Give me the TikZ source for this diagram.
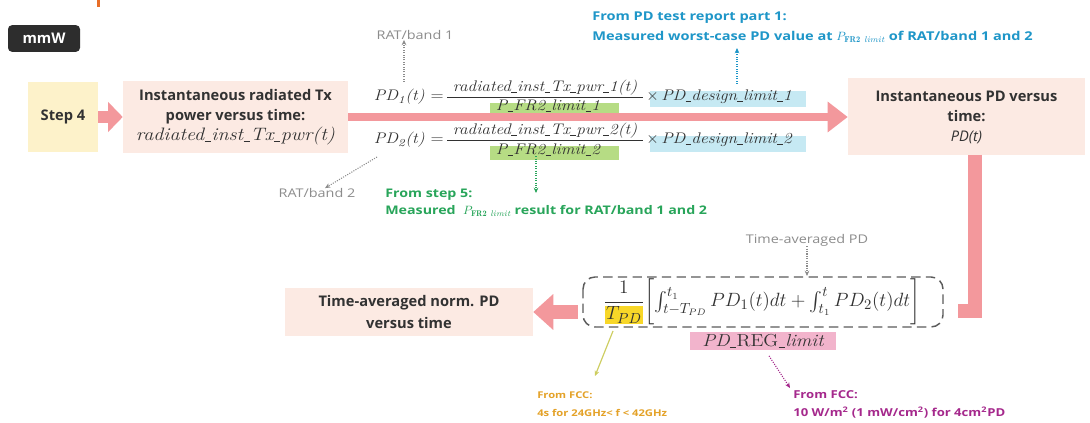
\documentclass[tikz,border=0pt]{standalone}
\usepackage{amsmath}
\usepackage{fontspec}
\setsansfont{Open Sans}
\newfontfamily\notefont{Open Sans}[FakeStretch=1.2]
\newfontfamily\eqfont{Latin Modern Roman}[FakeStretch=1.12]
\usetikzlibrary{arrows.meta}

\definecolor{arrowpink}{RGB}{243,152,156}
\definecolor{boxpink}{RGB}{252,234,227}
\definecolor{stepyellow}{RGB}{253,242,202}
\definecolor{darktext}{RGB}{50,50,50}
\definecolor{mmwdark}{RGB}{45,45,45}
\definecolor{notegray}{RGB}{140,140,140}
\definecolor{pdblue}{RGB}{30,150,200}
\definecolor{hlblue}{RGB}{198,233,243}
\definecolor{stepgreen}{RGB}{40,165,90}
\definecolor{hlgreen}{RGB}{182,220,132}
\definecolor{fccorange}{RGB}{228,162,40}
\definecolor{hlyellow}{RGB}{248,215,40}
\definecolor{lineolive}{RGB}{205,205,95}
\definecolor{fccmagenta}{RGB}{165,40,140}
\definecolor{hlpink}{RGB}{242,180,204}
\definecolor{tabbar}{RGB}{232,110,40}

% short low underscore used inside variable names
\newcommand\usc{\kern0.02em\rule[-0.06em]{0.36em}{0.045em}\kern0.02em}
\setlength{\fboxsep}{0.6pt}

\begin{document}
\begin{tikzpicture}[x=0.75pt,y=-0.75pt,
  box/.style={fill=boxpink, inner sep=0pt, align=center, text=darktext,
    font=\sffamily\bfseries\fontsize{11}{15}\selectfont},
  note/.style={inner sep=0pt, text=notegray, font=\notefont\fontsize{9}{10}\selectfont},
  bnote/.style={inner sep=0pt, align=left, anchor=west,
    font=\notefont\bfseries\fontsize{9.1}{15}\selectfont},
  eq/.style={inner sep=0pt, text=darktext, font=\eqfont\itshape\fontsize{11.5}{13}\selectfont},
  dotarrow/.style={line width=0.8pt, densely dotted, -{Stealth[length=4pt,width=3.5pt]}},
  fracbar/.style={draw=darktext, line width=0.6pt}
]
\path[use as bounding box, fill=white] (0,0) rectangle (1090,423);

% small accent bar at the top edge
\fill[tabbar] (97,0) rectangle (100,7);

% --- main boxes ---
\node[fill=mmwdark, rounded corners=3pt, inner sep=0pt, minimum width=54pt, minimum height=20pt,
  text=white, font=\sffamily\bfseries\fontsize{11}{12}\selectfont] (mmw) at (44,38.5) {mmW};

\node[box, fill=stepyellow, minimum width=52.5pt, minimum height=52.5pt] (step) at (63,117) {Step 4};

\node[box, minimum width=168.75pt, minimum height=54pt] (tx) at (235.5,117)
  {Instantaneous radiated Tx\\power versus time:\\
   {\eqfont\mdseries\itshape\fontsize{13.5}{15}\selectfont radiated\usc inst\usc Tx\usc pwr(t)}};

\node[box, minimum width=177.75pt, minimum height=57.75pt] (pd) at (966.5,117)
  {Instantaneous PD versus\\time:\\{\mdseries\itshape PD(t)}};

\node[box, minimum width=186pt, minimum height=36pt, font=\sffamily\bfseries\fontsize{11}{16.5}\selectfont]
  (avg) at (409,312) {Time-averaged norm. PD\\versus time};

% --- highlights behind formula parts ---
\fill[hlgreen] (490,103) rectangle (619,116);
\fill[hlgreen] (490,146) rectangle (619,160);
\fill[hlblue] (650,91) rectangle (806,107);
\fill[hlblue] (650,136) rectangle (806,152);
\fill[hlpink] (690,332) rectangle (836,350);

% --- thick flow arrows ---
\draw[arrowpink, line width=9pt, -{Triangle[length=11pt,width=22pt]}] (step.east) -- (tx.west);
\draw[arrowpink, line width=5.5pt, -{Triangle[length=15pt,width=22pt]}] (tx.east) -- (pd.west);
\coordinate (barTop) at (975,155);
\coordinate (barFoot) at (958,311);
\draw[arrowpink, line width=10.5pt] (barTop) |- (barFoot);

% --- power density formulas ---
\node[eq, anchor=base east] (lhs1) at (444,101) {PD\textsubscript{1}(t) {\upshape =}};
\node[eq, anchor=base] (num1) at (545,92) {radiated\usc inst\usc Tx\usc pwr\usc 1(t)};
\draw[fracbar] (447,97) -- (643,97);
\node[eq, anchor=base] (den1) at (548,111) {P\usc FR2\usc limit\usc 1};
\node[eq, anchor=base west] (rhs1) at (646,101) {{\upshape$\times$}\,PD\usc design\usc limit\usc 1};

\node[eq, anchor=base east] (lhs2) at (444,144) {PD\textsubscript{2}(t) {\upshape =}};
\node[eq, anchor=base] (num2) at (545,135) {radiated\usc inst\usc Tx\usc pwr\usc 2(t)};
\draw[fracbar] (447,140) -- (643,140);
\node[eq, anchor=base] (den2) at (548,155) {P\usc FR2\usc limit\usc 2};
\node[eq, anchor=base west] (rhs2) at (646,144) {{\upshape$\times$}\,PD\usc design\usc limit\usc 2};

% --- annotations around the formulas ---
\node[note] (rat1) at (415,35) {RAT/band 1};
\coordinate (rat1foot) at (404,82);
\draw[dotarrow, notegray] (rat1foot) -- (rat1foot |- rat1.south);

\node[note] (rat2) at (317,193) {RAT/band 2};
\coordinate (rat2from) at (377,157);
\draw[dotarrow, notegray] (rat2from) -- ([xshift=6pt]rat2.north);

\node[bnote, text=pdblue] (pdrep) at (592,27)
  {From PD test report part 1:\\Measured worst-case PD value at $P_{\mathbf{FR2}\ \mathit{limit}}$ of RAT/band 1 and 2};
\coordinate (pdrepfoot) at (737,84);
\draw[dotarrow, pdblue] (pdrepfoot) -- (737,48);

\node[bnote, text=stepgreen, font=\notefont\bfseries\fontsize{8.9}{12.8}\selectfont] (step5) at (385,203)
  {From step 5:\\Measured \ $P_{\mathbf{FR2}\ \mathit{limit}}$ result for RAT/band 1 and 2};
\draw[dotarrow, stepgreen] (den2.south -| 536,0) -- (536,193);

% --- time averaging ---
\draw[darktext!80, line width=1.1pt, dash pattern=on 7pt off 4pt, rounded corners=9pt]
  (583,277) rectangle (943,327);
\coordinate (dashW) at (583,312);
\node[inner sep=0pt, text=darktext, font=\fontsize{15}{18}\selectfont] (integ) at (762,302)
  {$\dfrac{1}{\colorbox{hlyellow}{$T_{PD}$}}\biggl[\int_{t-T_{PD}}^{t_1} PD_1(t)dt+\int_{t_1}^{t} PD_2(t)dt\biggr]$};
\node[eq, font=\eqfont\itshape\fontsize{13}{15}\selectfont] (reg) at (763,341) {PD\usc{\upshape REG}\usc limit};

\draw[arrowpink, line width=10pt, -{Triangle[length=15pt,width=26pt]}] ([xshift=-4pt]dashW) -- (avg.east);

\node[note] (tavg) at (807,240) {Time-averaged PD};
\draw[dotarrow, notegray] (tavg.south) -- (807,276);

\coordinate (tpd) at (613,331);
\node[bnote, text=fccorange, font=\notefont\bfseries\fontsize{7}{13.5}\selectfont] (fcc1) at (537,404)
  {From FCC:\\4s for 24GHz< f < 42GHz};
\draw[lineolive, line width=0.9pt, -{Stealth[length=4pt,width=3.5pt]}] (tpd) -- (595,376);

\node[bnote, text=fccmagenta, font=\notefont\bfseries\fontsize{8.2}{13.5}\selectfont] (fcc2) at (793,404)
  {From FCC:\\10 W/m\textsuperscript{2} (1 mW/cm\textsuperscript{2}) for 4cm\textsuperscript{2}PD};
\draw[dotarrow, fccmagenta] (reg.south) ++(6,8) -- (790,388);
\end{tikzpicture}
\end{document}
